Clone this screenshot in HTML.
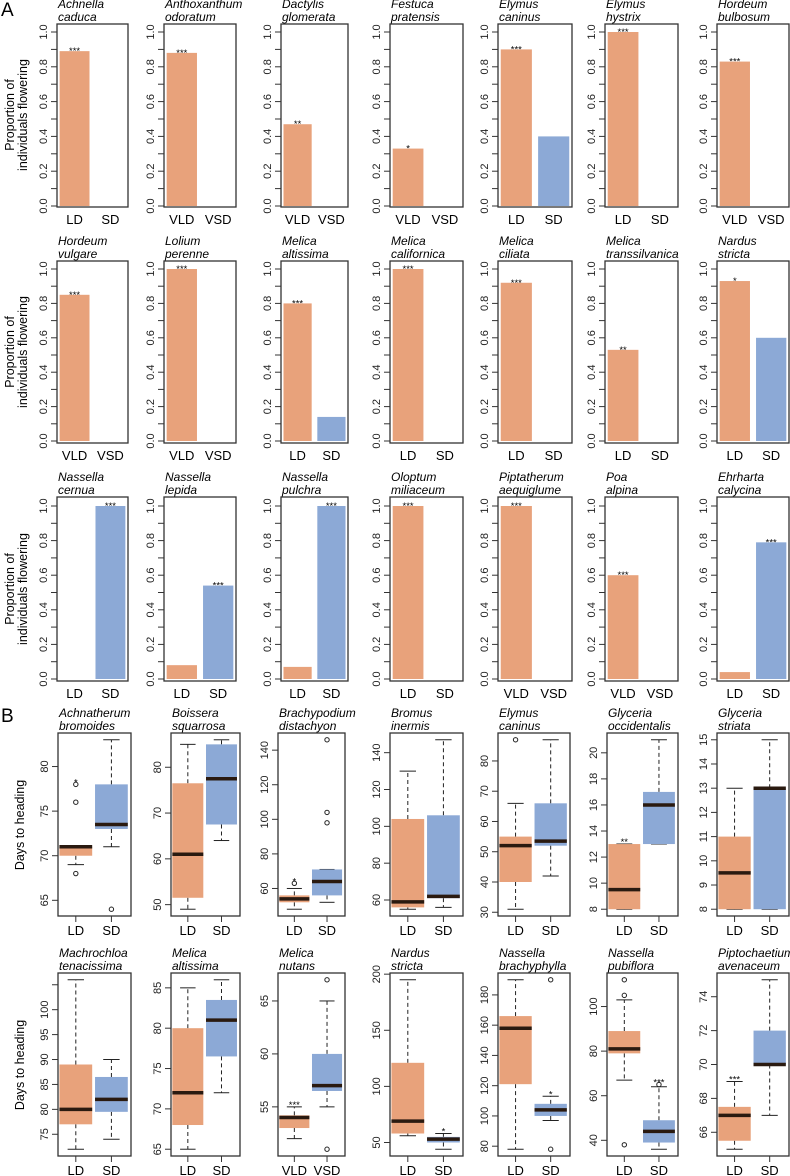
<!DOCTYPE html>
<html><head><meta charset="utf-8">
<style>
html,body{margin:0;padding:0;background:#fff;}
svg{display:block;font-family:"Liberation Sans",Arial,sans-serif;}
</style></head>
<body>
<svg id="fig" width="790" height="1176" viewBox="0 0 790 1176" xmlns="http://www.w3.org/2000/svg">
<text x="1" y="16" font-size="19">A</text>
<text x="1" y="722" font-size="19">B</text>
<g><text transform="translate(14,115) rotate(-90)" text-anchor="middle" font-size="12.5">Proportion of</text><text transform="translate(27,115) rotate(-90)" text-anchor="middle" font-size="12.5">individuals flowering</text></g>
<g><text transform="translate(14,352) rotate(-90)" text-anchor="middle" font-size="12.5">Proportion of</text><text transform="translate(27,352) rotate(-90)" text-anchor="middle" font-size="12.5">individuals flowering</text></g>
<g><text transform="translate(14,589) rotate(-90)" text-anchor="middle" font-size="12.5">Proportion of</text><text transform="translate(27,589) rotate(-90)" text-anchor="middle" font-size="12.5">individuals flowering</text></g>
<text transform="translate(24,825) rotate(-90)" text-anchor="middle" font-size="12.5">Days to heading</text>
<text transform="translate(24,1065) rotate(-90)" text-anchor="middle" font-size="12.5">Days to heading</text>
</svg>
<script>
// ---------- Panel A data ----------
const titlesA = [
 ["Achnella","caduca"],["Anthoxanthum","odoratum"],["Dactylis","glomerata"],["Festuca","pratensis"],["Elymus","caninus"],["Elymus","hystrix"],["Hordeum","bulbosum"],
 ["Hordeum","vulgare"],["Lolium","perenne"],["Melica","altissima"],["Melica","californica"],["Melica","ciliata"],["Melica","transsilvanica"],["Nardus","stricta"],
 ["Nassella","cernua"],["Nassella","lepida"],["Nassella","pulchra"],["Oloptum","miliaceum"],["Piptatherum","aequiglume"],["Poa","alpina"],["Ehrharta","calycina"]
];
const catsA = [
 ["LD","SD"],["VLD","VSD"],["VLD","VSD"],["VLD","VSD"],["LD","SD"],["LD","SD"],["VLD","VSD"],
 ["VLD","VSD"],["VLD","VSD"],["LD","SD"],["LD","SD"],["LD","SD"],["LD","SD"],["LD","SD"],
 ["LD","SD"],["LD","SD"],["LD","SD"],["LD","SD"],["VLD","VSD"],["VLD","VSD"],["LD","SD"]
];
const longDayVals = [0.89,0.88,0.47,0.33,0.90,1.00,0.83, 0.85,1.00,0.80,1.00,0.92,0.53,0.93, 0.00,0.08,0.07,1.00,1.00,0.60,0.04];
const shortDayVals = [0,0,0,0,0.40,0,0, 0,0,0.14,0,0,0,0.60, 1.00,0.54,1.00,0,0,0,0.79];
const sigTextA = ["***","***","**","*","***","***","***", "***","***","***","***","***","**","*", "***","***","***","***","***","***","***"];
const sigBarA = [0,0,0,0,0,0,0, 0,0,0,0,0,0,0, 1,1,1,0,0,0,1];
const yTicksA = [0,0.1,0.2,0.3,0.4,0.5,0.6,0.7,0.8,0.9,1.0];
const yTickLabelsA = ["0.0","","0.2","","0.4","","0.6","","0.8","","1.0"];

// ---------- Panel B data ----------
const titlesB = [
 ["Achnatherum","bromoides"],["Boissera","squarrosa"],["Brachypodium","distachyon"],["Bromus","inermis"],["Elymus","caninus"],["Glyceria","occidentalis"],["Glyceria","striata"],
 ["Machrochloa","tenacissima"],["Melica","altissima"],["Melica","nutans"],["Nardus","stricta"],["Nassella","brachyphylla"],["Nassella","pubiflora"],["Piptochaetium","avenaceum"]
];
const catsB = [["LD","SD"],["LD","SD"],["LD","SD"],["LD","SD"],["LD","SD"],["LD","SD"],["LD","SD"],
 ["LD","SD"],["LD","SD"],["VLD","VSD"],["LD","SD"],["LD","SD"],["LD","SD"],["LD","SD"]];
// [lower whisker, q1, median, q3, upper whisker]
const statsLD = [[69,70,71,71,71],[49,51.5,61,76.5,85],[48,52,54,56,60],[55,56,59,104,130],[31,40,52,55,66],[8,8,9.5,13,13],[8,8,9.5,11,13],
 [72,77,80,89,106],[65,68,72,80,85],[52,53,54,54.2,55],[56,58,69,121,195],[78,121,158,166,190],[67,79,81,89,103],[65,65.5,67,67.5,69]];
const statsSD = [[71,73,73.5,78,83],[64,67.5,77.5,85,86],[52,56,64,71,71],[56,61,62,106,147],[42,52,53.5,66,87],[13,13,16,17,21],[8,8,13,13,15],
 [74,79.5,82,86.5,90],[72,76.5,81,83.5,86],[55,56.5,57,60,65],[44,50,53,55,58],[97,100,104,108,113],[36,39,44,49,64],[67,70,70,72,75]];
const outLD = [[68,76,78],[],[63],[],[87],[],[], [],[],[],[],[],[38,105,112],[]];
const outSD = [[64],[],[98,104,146],[],[],[],[], [],[],[51,67],[],[78,190],[65],[]];
const sigTextB = ["*","","*","","","**","", "","","***","*","*","***","***"];
const sigGroupB = [0,0,0,0,0,0,0, 0,0,0,1,1,1,0];
const sigValB = [78,0,63,0,0,13,0, 0,0,55,58,113,65,69];
const yTicksB = [[65,70,75,80],[50,60,70,80],[60,80,100,120,140],[60,80,100,120,140],[30,40,50,60,70,80],[8,10,12,14,16,18,20],[8,9,10,11,12,13,14,15],
 [75,80,85,90,95,100,105],[65,70,75,80,85],[55,60,65],[50,100,150,200],[80,100,120,140,160,180],[40,60,80,100],[66,68,70,72,74]];
const hiddenTickB = [[],[],[],[],[],[],[], [105],[],[],[],[],[],[]];

// ---------- layout ----------
const NS = "http://www.w3.org/2000/svg";
const svg = document.getElementById("fig");
const ORANGE = "#E8A27B", BLUE = "#8CA9D6", MED = "#2a1a10";
const leftsA = [57,164,281,390,498,605,717], widthsA = [71,72,67,73,74,73,72];
const rowsA = [{top:24,bottom:207,y1:32,y0:206},{top:261,bottom:443,y1:269,y0:441},{top:497,bottom:681,y1:506,y0:679}];
const leftsB = [58,171,278,390,498,607,717], widthsB = [73,69,67,73,72,71,72];
const rowsB = [{top:733,bottom:916},{top:973,bottom:1156}];

function el(tag, attrs, parent){ const e=document.createElementNS(NS,tag); for(const k in attrs) e.setAttribute(k,attrs[k]); (parent||svg).appendChild(e); return e; }
function txt(s, attrs, parent){ const e=el("text",attrs,parent); e.textContent=s; return e; }

function title(g, lines, left, top){
  const t1 = txt(lines[0], {x:left+1, y:top-16, "font-size":12, "font-style":"italic"}, g);
  
  
  const t2 = txt(lines[1], {x:left+1, y:top-3, "font-size":12, "font-style":"italic"}, g);
  
  
}

// ---------- draw A ----------
for(let i=0;i<21;i++){
  const r = rowsA[Math.floor(i/7)], c = i%7;
  const left = leftsA[c], w = widthsA[c];
  const g = el("g",{});
  
  
  title(g, titlesA[i], left, r.top);
  const xlo=0.112, xhi=2.488;
  const xs = u => left + (u-xlo)/(xhi-xlo)*w;
  const yS = v => r.y0 - v*(r.y0-r.y1);
  const vals=[longDayVals[i], shortDayVals[i]];
  const starts=[0.2,1.4];
  for(let b=0;b<2;b++){
    if(vals[b]>0){
      const rect = el("rect",{x:xs(starts[b]), y:yS(vals[b]), width:xs(starts[b]+1)-xs(starts[b]), height:yS(0)-yS(vals[b]), fill:b?BLUE:ORANGE}, g);
      
      
    }
    const lab = txt(catsA[i][b], {x:xs(starts[b]+0.5), y:r.bottom+17, "text-anchor":"middle", "font-size":13}, g);
    
    
  }
  const sb = sigBarA[i];
  const st = txt(sigTextA[i], {x:xs(starts[sb]+0.5), y:yS(vals[sb])+3, "text-anchor":"middle", "font-size":9.5}, g);
  
  
  const fr = el("rect",{x:left, y:r.top, width:w, height:r.bottom-r.top, fill:"none", stroke:"#333", "stroke-width":1.3}, g);
  
  
  for(let t=0;t<yTicksA.length;t++){
    const y=yS(yTicksA[t]);
    el("line",{x1:left-6,x2:left,y1:y,y2:y,stroke:"#333","stroke-width":1},g);
    if(yTickLabelsA[t]){
      const tl = txt(yTickLabelsA[t], {transform:`translate(${left-10},${y}) rotate(-90)`, "text-anchor":"middle","font-size":11,fill:"#222"}, g);
      
      
    }
  }
}

// ---------- draw B ----------
for(let i=0;i<14;i++){
  const r = rowsB[Math.floor(i/7)], c=i%7;
  const left=leftsB[c], w=widthsB[c];
  const g = el("g",{});
  
  
  title(g, titlesB[i], left, r.top);
  const all = statsLD[i].concat(statsSD[i], outLD[i], outSD[i]);
  let mn=Math.min(...all), mx=Math.max(...all);
  const ext=(mx-mn)*0.04; mn-=ext; mx+=ext;
  const yS = v => r.bottom - (v-mn)/(mx-mn)*(r.bottom-r.top);
  const xlo=0.5, xhi=2.55;
  const xs = u => left + (u-xlo)/(xhi-xlo)*w;
  const groups=[statsLD[i], statsSD[i]], outs=[outLD[i], outSD[i]];
  for(let k=0;k<2;k++){
    const s=groups[k], cx=xs(k+1), hw=xs(k+1.46)-cx, cap=hw*0.5;
    const wl = el("line",{x1:cx,x2:cx,y1:yS(s[3]),y2:yS(s[4]),stroke:"#222","stroke-width":1,"stroke-dasharray":"4,3"},g);
    
    
    const wl2 = el("line",{x1:cx,x2:cx,y1:yS(s[1]),y2:yS(s[0]),stroke:"#222","stroke-width":1,"stroke-dasharray":"4,3"},g);
    
    
    el("line",{x1:cx-cap,x2:cx+cap,y1:yS(s[4]),y2:yS(s[4]),stroke:"#222","stroke-width":1},g);
    el("line",{x1:cx-cap,x2:cx+cap,y1:yS(s[0]),y2:yS(s[0]),stroke:"#222","stroke-width":1},g);
    const bx = el("rect",{x:cx-hw,y:yS(s[3]),width:2*hw,height:Math.max(0.5,yS(s[1])-yS(s[3])),fill:k?BLUE:ORANGE},g);
    
    
    const md = el("line",{x1:cx-hw,x2:cx+hw,y1:yS(s[2]),y2:yS(s[2]),stroke:MED,"stroke-width":3.5},g);
    
    
    for(const o of outs[k]){
      const ci = el("circle",{cx:cx,cy:yS(o),r:2.2,fill:"none",stroke:"#222","stroke-width":1},g);
      
      
    }
    el("line",{x1:cx,x2:cx,y1:r.bottom,y2:r.bottom+6,stroke:"#333","stroke-width":1},g);
    const lab = txt(catsB[i][k], {x:cx, y:r.bottom+19, "text-anchor":"middle","font-size":13}, g);
    
    
  }
  if(sigTextB[i]){
    const st = txt(sigTextB[i], {x:xs(sigGroupB[i]+1), y:yS(sigValB[i])+1, "text-anchor":"middle","font-size":9.5}, g);
    
    
  }
  const fr = el("rect",{x:left,y:r.top,width:w,height:r.bottom-r.top,fill:"none",stroke:"#333","stroke-width":1.3},g);
  
  
  for(const t of yTicksB[i]){
    const y=yS(t);
    el("line",{x1:left-6,x2:left,y1:y,y2:y,stroke:"#333","stroke-width":1},g);
    if(hiddenTickB[i].indexOf(t)<0){
      const tl = txt(String(t), {transform:`translate(${left-10},${y}) rotate(-90)`, "text-anchor":"middle","font-size":11,fill:"#222"}, g);
      
      
    }
  }
}
</script>
</body></html>
